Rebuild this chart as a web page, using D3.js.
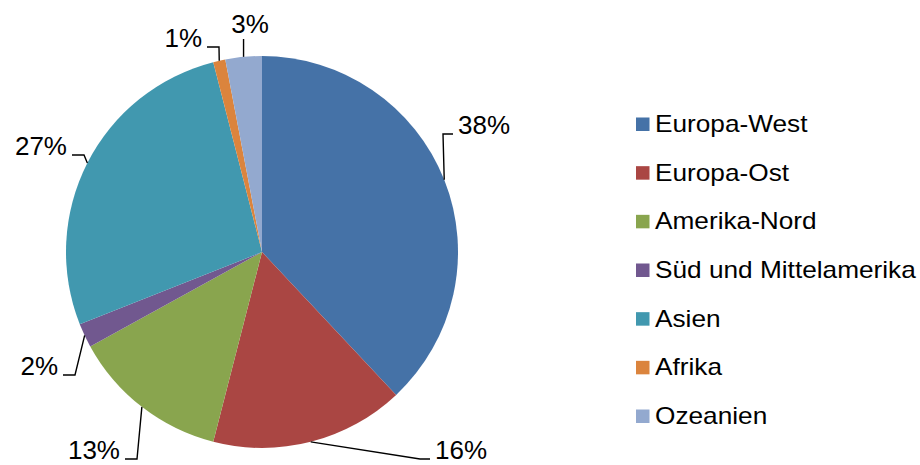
<!DOCTYPE html>
<html lang="de">
<head>
<meta charset="UTF-8" />
<title>Anteile nach Region</title>
<script src="https://cdn.jsdelivr.net/npm/d3@7"></script>
<style>
  body { margin: 0; background: #fff; }
  text { font-family: "Liberation Sans", Arial, Helvetica, sans-serif; fill: #000; }
</style>
</head>
<body>
<div id="chart"></div>
<script>
// data
const regions = ["Europa-West", "Europa-Ost", "Amerika-Nord", "Süd und Mittelamerika", "Asien", "Afrika", "Ozeanien"];
const shares = [38, 16, 13, 2, 27, 1, 3];
const colors = ["#4572A7", "#AA4643", "#89A54E", "#71588F", "#4198AF", "#DB843D", "#93A9CF"];

// label placement (offsets from pie centre), side of the leader
const labelOffsets = [[196, -118], [173, 207], [-142, 207], [-204, 123], [-195, -97], [-60, -205], [-12, -219]];
const labelSides = ["right", "right", "left", "left", "left", "left", "top"];

const width = 920, height = 465;
const cx = 262, cy = 252, r = 196;

const svg = d3.select("#chart").append("svg")
    .attr("width", width)
    .attr("height", height);

const pie = d3.pie().sort(null).value(d => d)(shares);
const arc = d3.arc().innerRadius(0).outerRadius(r);

const g = svg.append("g").attr("transform", `translate(${cx},${cy})`);

g.selectAll("path.slice")
    .data(pie)
    .enter().append("path")
    .attr("class", "slice")
    .attr("d", arc)
    .attr("fill", (d, i) => colors[i]);

// leader lines + labels
pie.forEach((d, i) => {
    const mid = (d.startAngle + d.endAngle) / 2;
    const ex = r * Math.sin(mid), ey = -r * Math.cos(mid);
    const lx = labelOffsets[i][0], ly = labelOffsets[i][1];
    const side = labelSides[i];
    let pts, anchor;
    if (side === "right") {
        pts = [[ex, ey], [lx - 15, ly], [lx - 5, ly]];
        anchor = "start";
    } else if (side === "left") {
        pts = [[ex, ey], [lx + 17, ly], [lx + 5, ly]];
        anchor = "end";
    } else {
        pts = [[ex, ey], [ex, ly + 6]];
        anchor = "middle";
    }
    g.append("path")
        .attr("d", d3.line()(pts))
        .attr("fill", "none")
        .attr("stroke", "#000")
        .attr("stroke-width", 1.4);
    g.append("text")
        .attr("x", lx)
        .attr("y", ly)
        .attr("text-anchor", anchor)
        .attr("font-size", 26)
        .text(shares[i] + "%");
});

// legend
const legendY = d3.scalePoint().domain(regions).range([132, 424]);
const legend = svg.append("g");
const items = legend.selectAll("g.item")
    .data(regions)
    .enter().append("g")
    .attr("class", "item");

items.append("rect")
    .attr("x", 636)
    .attr("y", d => legendY(d) - 14.5)
    .attr("width", 13.5)
    .attr("height", 13.5)
    .attr("fill", (d, i) => colors[i]);

items.append("text")
    .attr("transform", d => `translate(655,${legendY(d)}) scale(1.14,1)`)
    .attr("font-size", 23)
    .text(d => d);
</script>
</body>
</html>
